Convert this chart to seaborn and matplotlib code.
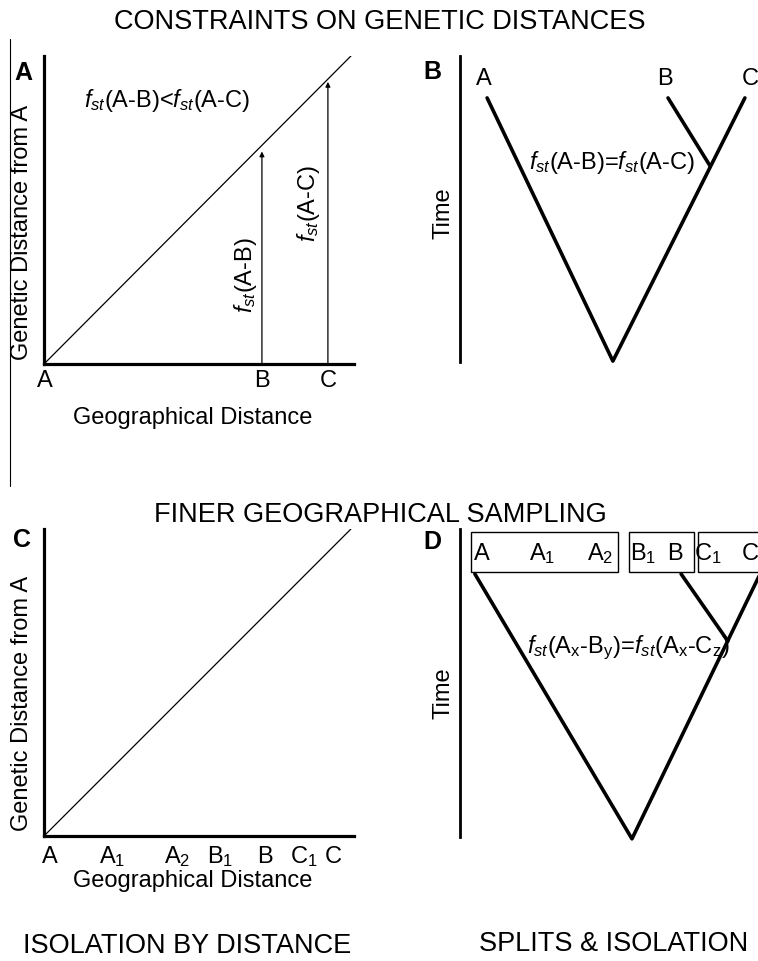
import matplotlib
matplotlib.use("Agg")
import matplotlib.pyplot as plt
import seaborn as sns
import pandas as pd
from matplotlib.patches import Rectangle
from matplotlib.lines import Line2D

sns.set_style("white")
plt.rcParams['font.family'] = ['Liberation Sans', 'DejaVu Sans']
plt.rcParams['mathtext.fontset'] = 'custom'
plt.rcParams['mathtext.rm'] = 'Liberation Sans'
plt.rcParams['mathtext.it'] = 'Liberation Sans:italic'
plt.rcParams['mathtext.bf'] = 'Liberation Sans:bold'
plt.rcParams['text.color'] = 'black'
plt.rcParams['axes.labelcolor'] = 'black'
plt.rcParams['xtick.color'] = 'black'
plt.rcParams['ytick.color'] = 'black'

# ---- data ----
# isolation by distance line (geographic vs genetic distance)
ibd_geo = [0.0, 1.0]
ibd_gen = [0.0, 1.0]

# panel A sites
sites_a = ["A", "B", "C"]
geo_a = [0.003, 0.71, 0.925]
fst_tip_a = [0.69, 0.916]   # arrow tips for B and C

# panel C finer sampling
sites_c = ["A", "A$_1$", "A$_2$", "B$_1$", "B", "C$_1$", "C"]
geo_c = [0.02, 0.221, 0.433, 0.573, 0.72, 0.847, 0.941]

# panel B tree (x position, time)
tree_b_main_x = [0.091, 0.513, 0.956]
tree_b_main_t = [0.863, 0.003, 0.863]
tree_b_side_x = [0.698, 0.839]
tree_b_side_t = [0.863, 0.641]
leaf_b = ["A", "B", "C"]
leaf_b_x = [0.081, 0.688, 0.973]

# panel D tree
tree_d_main_x = [0.050, 0.577, 1.007]
tree_d_main_t = [0.854, -0.006, 0.854]
tree_d_side_x = [0.742, 0.899]
tree_d_side_t = [0.854, 0.636]
leaf_d = ["A", "A$_1$", "A$_2$", "B$_1$", "B", "C$_1$", "C"]
leaf_d_x = [0.074, 0.275, 0.47, 0.614, 0.72, 0.832, 0.973]
box_left = [0.037, 0.567, 0.799]
box_right = [0.530, 0.785, 1.06]
box_bottom, box_top = 0.860, 0.990

W, H = 758, 962
FS = 17
TFS = 19.5
fig = plt.figure(figsize=(W / 100, H / 100), dpi=100)


def px_axes(l, t, r, b):
    return fig.add_axes([l / W, 1 - b / H, (r - l) / W, (b - t) / H])


def ibd_panel(ax, sites, geo, pad):
    sns.lineplot(x=ibd_geo, y=ibd_gen, ax=ax, color="black", lw=0.9)
    ax.set_xlim(0, 1.01)
    ax.set_ylim(0, 1.0)
    for s in ["top", "right"]:
        ax.spines[s].set_visible(False)
    for s in ["left", "bottom"]:
        ax.spines[s].set_linewidth(2.3)
        ax.spines[s].set_color("black")
    ax.set_xticks(geo)
    ax.set_xticklabels(sites, fontsize=FS)
    # common baseline for labels with and without subscripts
    for t in ax.get_xticklabels():
        t.set_verticalalignment("baseline")
    ax.tick_params(axis="x", length=0, pad=pad)
    ax.set_yticks([])
    ax.set_ylabel("Genetic Distance from A", fontsize=FS)
    ax.set_xlabel("Geographical Distance", fontsize=FS)
    ax.yaxis.label.set_verticalalignment("center")
    ax.xaxis.label.set_verticalalignment("center")


def tree_panel(ax, mx, mt, sx, st):
    df_m = pd.DataFrame({"x": mx, "t": mt})
    df_s = pd.DataFrame({"x": sx, "t": st})
    sns.lineplot(data=df_m, x="x", y="t", sort=False, estimator=None, ax=ax,
                 color="black", lw=2.6, clip_on=False)
    sns.lineplot(data=df_s, x="x", y="t", sort=False, estimator=None, ax=ax,
                 color="black", lw=2.6, clip_on=False)
    ax.set_xlim(0, 1)
    ax.set_ylim(0, 1)
    for s in ["top", "right", "bottom"]:
        ax.spines[s].set_visible(False)
    ax.spines["left"].set_linewidth(2.0)
    ax.spines["left"].set_color("black")
    ax.set_xticks([])
    ax.set_yticks([])
    ax.set_xlabel("")
    ax.set_ylabel("Time", fontsize=FS)
    ax.yaxis.label.set_verticalalignment("center")
    ax.patch.set_alpha(0)


# Panel A
axA = px_axes(44, 57, 354, 365)
ibd_panel(axA, sites_a, geo_a, 16)
axA.yaxis.set_label_coords(-0.071, 0.43)
axA.xaxis.set_label_coords(0.48, -0.172)
for x, tip in zip(geo_a[1:], fst_tip_a):
    axA.annotate("", xy=(x, tip), xytext=(x, 0),
                 arrowprops=dict(arrowstyle="-|>", lw=0.9, color="black",
                                 mutation_scale=7, shrinkA=0, shrinkB=0))
axA.text(0.40, 0.86, "$f_{st}$(A-B)<$f_{st}$(A-C)", fontsize=FS,
         ha="center", va="center")
axA.text(0.655, 0.292, "$f_{st}$(A-B)", fontsize=FS, rotation=90,
         ha="center", va="center")
axA.text(0.863, 0.526, "$f_{st}$(A-C)", fontsize=FS, rotation=90,
         ha="center", va="center")

# Panel B
axB = px_axes(460, 57, 758, 363)
tree_panel(axB, tree_b_main_x, tree_b_main_t, tree_b_side_x, tree_b_side_t)
axB.yaxis.set_label_coords(-0.057, 0.49)
for lab, x in zip(leaf_b, leaf_b_x):
    axB.text(x, 0.908, lab, fontsize=FS, ha="center", va="baseline", clip_on=False)
axB.text(0.51, 0.654, "$f_{st}$(A-B)=$f_{st}$(A-C)", fontsize=FS,
         ha="center", va="center")

# Panel C
axC = px_axes(44, 530, 354, 837)
ibd_panel(axC, sites_c, geo_c, 19)
axC.yaxis.set_label_coords(-0.071, 0.436)
axC.xaxis.set_label_coords(0.48, -0.142)

# Panel D
axD = px_axes(460, 530, 758, 838)
tree_panel(axD, tree_d_main_x, tree_d_main_t, tree_d_side_x, tree_d_side_t)
axD.yaxis.set_label_coords(-0.057, 0.47)
for l, r in zip(box_left, box_right):
    axD.add_patch(Rectangle((l, box_bottom), r - l, box_top - box_bottom,
                            fill=False, lw=1.0, ec="black", clip_on=False))
for lab, x in zip(leaf_d, leaf_d_x):
    axD.text(x, 0.903, lab, fontsize=FS, ha="center", va="baseline", clip_on=False)
axD.text(0.564, 0.617, "$f_{st}$(A$_\\mathrm{x}$-B$_\\mathrm{y}$)=$f_{st}$(A$_\\mathrm{x}$-C$_\\mathrm{z}$)",
         fontsize=FS, ha="center", va="center")

# panel letters and section titles
for lab, x, y in [("A", 23, 73), ("B", 432, 72), ("C", 22, 540), ("D", 432, 542)]:
    fig.text(x / W, 1 - y / H, lab, fontsize=18, fontweight="bold",
             ha="center", va="center")
for lab, x, y in [("CONSTRAINTS ON GENETIC DISTANCES", 380, 22),
                  ("FINER GEOGRAPHICAL SAMPLING", 380, 515),
                  ("ISOLATION BY DISTANCE", 187, 946),
                  ("SPLITS & ISOLATION", 614, 944)]:
    fig.text(x / W, 1 - y / H, lab, fontsize=TFS, ha="center", va="center")

# thin separator line at the left edge
fig.add_artist(Line2D([10 / W, 10 / W], [1 - 40 / H, 1 - 487 / H],
                      color="black", lw=0.8))

fig.savefig("out.png", dpi=100)
